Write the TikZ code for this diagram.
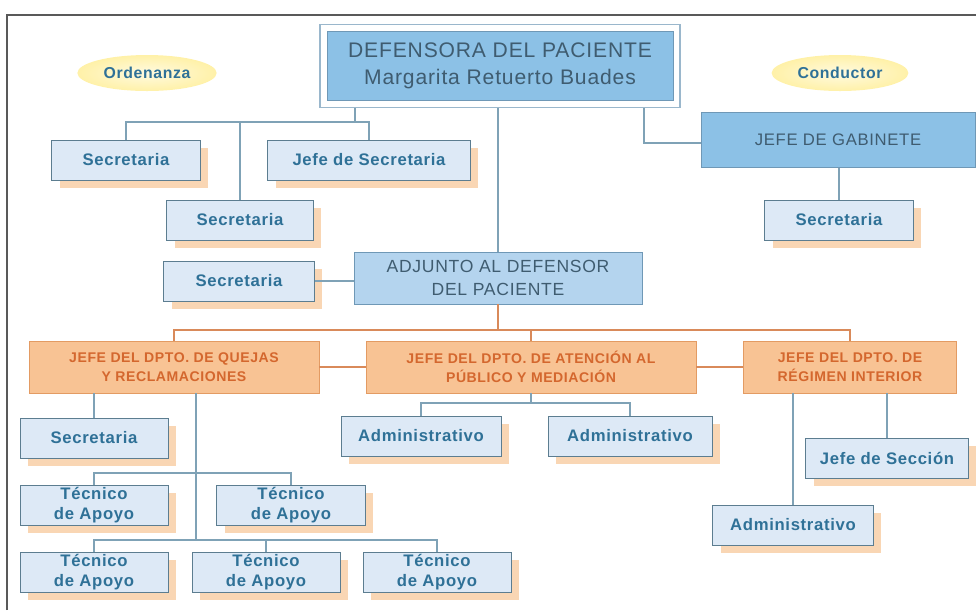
\documentclass[tikz,border=0pt]{standalone}
\usepackage{fontspec}
\setmainfont{Liberation Sans}[LetterSpace=4]
\usetikzlibrary{shapes.geometric,shadows,fit}
\definecolor{bluemid}{HTML}{8CC1E6}
\definecolor{bluelight}{HTML}{B4D4EE}
\definecolor{blueline}{HTML}{6F98B6}
\definecolor{bluetext}{HTML}{3F5C70}
\definecolor{sboxfill}{HTML}{DDE9F6}
\definecolor{sboxline}{HTML}{5C7D90}
\definecolor{sboxtext}{HTML}{2F7197}
\definecolor{orfill}{HTML}{F8C394}
\definecolor{orline}{HTML}{E39B63}
\definecolor{ortext}{HTML}{D4672E}
\definecolor{shadoworange}{HTML}{F9D6B4}
\definecolor{linkblue}{HTML}{7FA2B6}
\definecolor{linkor}{HTML}{D98A5A}
\definecolor{glow}{HTML}{FFF1A8}

\begin{document}
\begin{tikzpicture}[x=0.02cm,y=-0.02cm,
  sbox/.style={draw=sboxline, fill=sboxfill, text=sboxtext,
    font=\fontsize{9.5}{11.5}\selectfont\bfseries, align=center,
    minimum width=#1, minimum height=0.8cm, inner sep=1pt,
    drop shadow={shadow xshift=0.16cm, shadow yshift=-0.16cm,
      fill=shadoworange, opacity=1}},
  sbox/.default=2.98cm,
  bbox/.style={draw=blueline, fill=bluemid, text=bluetext, align=center,
    minimum width=#1, inner sep=1pt},
  obox/.style={draw=orline, fill=orfill, text=ortext, align=center,
    font=\fontsize{8}{10.5}\selectfont\bfseries,
    minimum width=#1, minimum height=1.04cm, inner sep=1pt},
  halo/.style={ellipse, shading=radial, inner color=glow!35!white,
    outer color=glow, text=sboxtext, font=\fontsize{9}{11}\selectfont\bfseries,
    minimum width=2.3cm, minimum height=0.72cm},
  bline/.style={draw=linkblue, line width=0.7pt},
  oline/.style={draw=linkor, line width=0.7pt}]
\useasboundingbox (0,0) rectangle (976,610);
\draw[black!65, line width=0.8pt] (7,610) |- (976,15);

\node[halo] (ord) at (147,73) {Ordenanza};
\node[halo] (cond) at (840,73) {Conductor};

\node[bbox=6.92cm, minimum height=1.38cm,
  font=\fontsize{12}{15.5}\selectfont] (top) at (500,66)
  {DEFENSORA DEL PACIENTE\\Margarita Retuerto Buades};
\node[draw=blueline!70!white, line width=0.8pt, fit=(top), inner sep=0.13cm] (topf) {};
\node[bbox=5.48cm, minimum height=1.1cm,
  font=\fontsize{9.5}{12}\selectfont] (gab) at (838,140) {JEFE DE GABINETE};
\node[bbox=5.76cm, minimum height=1.04cm, fill=bluelight,
  font=\fontsize{10}{13}\selectfont] (adj) at (498,278)
  {ADJUNTO AL DEFENSOR\\DEL PACIENTE};

\node[sbox] (sec1) at (126,160) {Secretaria};
\node[sbox=4.06cm] (jsec) at (369,160) {Jefe de Secretaria};
\node[sbox=2.94cm] (sec2) at (240,220) {Secretaria};
\node[sbox] (secg) at (839,220) {Secretaria};
\node[sbox=3.02cm] (seca) at (239,281) {Secretaria};

\node[obox=5.8cm] (quejas) at (174,367) {JEFE DEL DPTO. DE QUEJAS\\Y RECLAMACIONES};
\node[obox=6.6cm] (aten) at (531,367) {JEFE DEL DPTO. DE ATENCIÓN AL\\PÚBLICO Y MEDIACIÓN};
\node[obox=4.26cm] (reg) at (850,367) {JEFE DEL DPTO. DE\\RÉGIMEN INTERIOR};

\node[sbox=2.96cm] (secq) at (94,438) {Secretaria};
\node[sbox=2.96cm] (tec1) at (94,505) {Técnico\\de Apoyo};
\node[sbox] (tec2) at (291,505) {Técnico\\de Apoyo};
\node[sbox=2.96cm] (tec3) at (94,572) {Técnico\\de Apoyo};
\node[sbox=2.96cm] (tec4) at (266,572) {Técnico\\de Apoyo};
\node[sbox=2.96cm] (tec5) at (437,572) {Técnico\\de Apoyo};
\node[sbox=3.2cm] (adm1) at (421,436) {Administrativo};
\node[sbox=3.28cm] (adm2) at (630,436) {Administrativo};
\node[sbox=3.26cm] (jsecc) at (887,458) {Jefe de Sección};
\node[sbox=3.22cm] (adm3) at (793,525) {Administrativo};

\coordinate (b1) at (355,122);
\coordinate (o1) at (498,330);
\coordinate (q1) at (196,473);
\coordinate (q2) at (196,540);
\coordinate (a1) at (531,403);

\draw[bline] (topf.south -| b1) -- (b1);
\draw[bline] (sec1.north) |- (b1) -| (jsec.north);
\draw[bline] (sec2.north) -- (sec2.north |- b1);
\draw[bline] (adj.north) -- (adj.north |- topf.south);
\draw[bline] ([xshift=2.88cm,yshift=0pt]topf.south) |- ([yshift=-0.06cm]gab.west);
\draw[bline] (secg.north) -- (secg.north |- gab.south);
\draw[bline] (seca.east) -- (seca.east -| adj.west);

\draw[oline] (adj.south) -- (o1);
\draw[oline] (quejas.north) |- (o1) -| (reg.north);
\draw[oline] (aten.north) -- (aten.north |- o1);
\draw[oline] (quejas.east) -- (aten.west);
\draw[oline] (aten.east) -- (reg.west);

\draw[bline] (secq.north) -- (secq.north |- quejas.south);
\draw[bline] (quejas.south -| q1) -- (q2);
\draw[bline] (tec1.north) |- (q1) -| (tec2.north);
\draw[bline] (tec3.north) |- (q2) -| (tec5.north);
\draw[bline] (tec4.north) -- (tec4.north |- q2);
\draw[bline] (aten.south) -- (a1);
\draw[bline] (adm1.north) |- (a1) -| (adm2.north);
\draw[bline] (adm3.north) -- (adm3.north |- reg.south);
\draw[bline] (jsecc.north) -- (jsecc.north |- reg.south);
\end{tikzpicture}
\end{document}
